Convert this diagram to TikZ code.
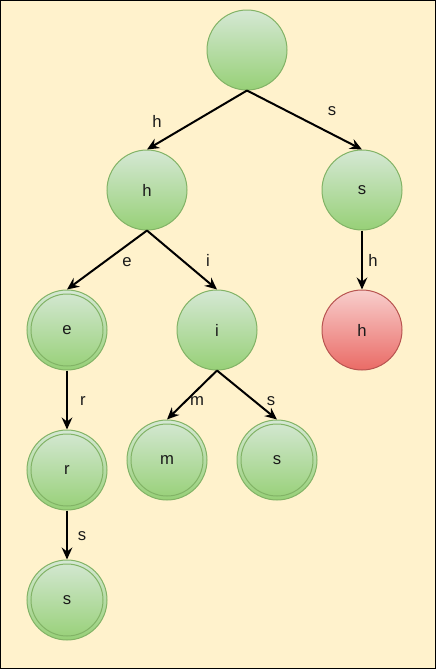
\documentclass[tikz,border=0pt]{standalone}
\usepackage{fontspec}
\setmainfont{Liberation Sans}
\usetikzlibrary{arrows.meta}
\definecolor{paper}{HTML}{FFF2CC}
\definecolor{gtop}{HTML}{D5E8D4}
\definecolor{gbot}{HTML}{97D077}
\definecolor{gline}{HTML}{82B366}
\definecolor{rtop}{HTML}{F8CECC}
\definecolor{rbot}{HTML}{EA6B66}
\definecolor{rline}{HTML}{B85450}
\definecolor{ink}{HTML}{1A1A1A}
\begin{document}
\begin{tikzpicture}[x=0.75pt,y=-0.75pt,
  every node/.style={font=\fontsize{12.5pt}{15pt}\selectfont, text=ink},
  state/.style={circle, minimum size=60pt, inner sep=0pt, draw=gline, line width=0.75pt,
    top color=gtop, bottom color=gbot},
  final/.style={state, path picture={\draw[gline, line width=0.75pt]
    (path picture bounding box.center) circle[radius=36];}},
  deadend/.style={circle, minimum size=60pt, inner sep=0pt, draw=rline, line width=0.75pt,
    top color=rtop, bottom color=rbot},
  link/.style={-{Stealth[length=9pt,width=8pt,inset=3pt]}, line width=1.5pt, black},
  lbl/.style={inner sep=0pt}]
  % page
  \useasboundingbox (0,0) rectangle (436,669);
  \draw[fill=paper, draw=black, line width=0.75pt] (0.5,0.5) rectangle (435.5,668.5);

  % trie nodes
  \node[state] (root) at (247,50) {};
  \node[state] (h)    at (147,190) {h};
  \node[state] (s)    at (362,190) {s};
  \node[final] (e)    at (67,330) {e};
  \node[state] (i)    at (217,330) {i};
  \node[deadend] (sh) at (362,330) {h};
  \node[final] (r)    at (67,470) {r};
  \node[final] (m)    at (167,460) {m};
  \node[final] (is)   at (277,460) {s};
  \node[final] (rs)   at (67,600) {s};

  % edges
  \draw[link] (root.south) -- (h.north);
  \draw[link] (root.south) -- (s.north);
  \draw[link] (h.south) -- (e.north);
  \draw[link] (h.south) -- (i.north);
  \draw[link] (s.south) -- (sh.north);
  \draw[link] (e.south) -- (r.north);
  \draw[link] (r.south) -- (rs.north);
  \draw[link] (i.south) -- (m.north);
  \draw[link] (i.south) -- (is.north);

  % edge labels
  \node[lbl] (lh)  at (157,121) {h};
  \node[lbl] (ls)  at (332,111) {s};
  \node[lbl] (le)  at (127,262) {e};
  \node[lbl] (li)  at (208,260) {i};
  \node[lbl] (lsh) at (373,260) {h};
  \node[lbl] (lr)  at (83,401) {r};
  \node[lbl] (lm)  at (197,401) {m};
  \node[lbl] (lis) at (271,401) {s};
  \node[lbl] (lrs) at (82,536) {s};
\end{tikzpicture}
\end{document}
